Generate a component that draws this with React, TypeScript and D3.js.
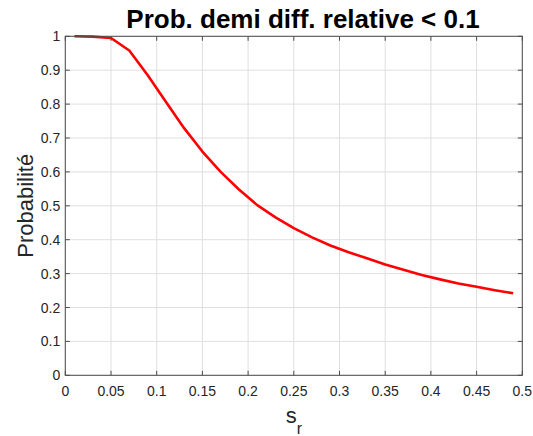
import React from "react";
import * as d3 from "d3";

// Relative standard deviation s_r sampled every 0.02
const srValues = [
  0.01, 0.03, 0.05, 0.07, 0.09, 0.11, 0.13, 0.15, 0.17, 0.19, 0.21, 0.23, 0.25,
  0.27, 0.29, 0.31, 0.33, 0.35, 0.37, 0.39, 0.41, 0.43, 0.45, 0.47, 0.49,
];
// Probability that the half relative difference stays below 0.1
const probValues = [
  1.0, 0.999, 0.995, 0.958, 0.886, 0.807, 0.729, 0.66, 0.6, 0.548, 0.502, 0.466,
  0.434, 0.407, 0.383, 0.363, 0.345, 0.327, 0.311, 0.296, 0.283, 0.271, 0.261,
  0.251, 0.242,
];
const xTicks = [0, 0.05, 0.1, 0.15, 0.2, 0.25, 0.3, 0.35, 0.4, 0.45, 0.5];
const yTicks = [0, 0.1, 0.2, 0.3, 0.4, 0.5, 0.6, 0.7, 0.8, 0.9, 1];

const W = 533;
const H = 436;
const left = 65.3;
const right = 522.3;
const top = 36.3;
const bottom = 375.3;
const font = "'Liberation Sans', Arial, Helvetica, sans-serif";
const axisColor = "#4d4d4d";
const textColor = "#262626";
const gridColor = "#dfdfdf";
const tickLen = 4.5;

const fmt = (v: number) => (v === 0 ? "0" : String(+v.toFixed(2)));

export default function App() {
  const x = d3.scaleLinear().domain([0, 0.5]).range([left, right]);
  const y = d3.scaleLinear().domain([0, 1]).range([bottom, top]);
  const data = srValues.map((s, i) => [s, probValues[i]] as [number, number]);
  const line = d3
    .line<[number, number]>()
    .x((d) => x(d[0]))
    .y((d) => y(d[1]));

  return (
    <svg
      width={W}
      height={H}
      style={{ position: "fixed", left: 0, top: 0, background: "#fff" }}
      fontFamily={font}
    >
      <rect x={0} y={0} width={W} height={H} fill="#fff" />
      {/* grid */}
      {xTicks.map((t) => (
        <line
          key={"gx" + t}
          x1={x(t)}
          x2={x(t)}
          y1={top}
          y2={bottom}
          stroke={gridColor}
          strokeWidth={1}
        />
      ))}
      {yTicks.map((t) => (
        <line
          key={"gy" + t}
          x1={left}
          x2={right}
          y1={y(t)}
          y2={y(t)}
          stroke={gridColor}
          strokeWidth={1}
        />
      ))}
      {/* curve */}
      <path
        d={line(data) || ""}
        fill="none"
        stroke="#ff0000"
        strokeWidth={2.6}
        strokeLinejoin="round"
      />
      {/* box */}
      <rect
        x={left}
        y={top}
        width={right - left}
        height={bottom - top}
        fill="none"
        stroke={axisColor}
        strokeWidth={1}
      />
      {/* ticks */}
      {xTicks.map((t) => (
        <g key={"tx" + t}>
          <line x1={x(t)} x2={x(t)} y1={bottom} y2={bottom - tickLen} stroke={axisColor} />
          <line x1={x(t)} x2={x(t)} y1={top} y2={top + tickLen} stroke={axisColor} />
          <text
            x={x(t)}
            y={396}
            textAnchor="middle"
            fontSize={14}
            fill={textColor}
          >
            {fmt(t)}
          </text>
        </g>
      ))}
      {yTicks.map((t) => (
        <g key={"ty" + t}>
          <line x1={left} x2={left + tickLen} y1={y(t)} y2={y(t)} stroke={axisColor} />
          <line x1={right} x2={right - tickLen} y1={y(t)} y2={y(t)} stroke={axisColor} />
          <text
            x={left - 5}
            y={y(t) + 5}
            textAnchor="end"
            fontSize={14}
            fill={textColor}
          >
            {fmt(t)}
          </text>
        </g>
      ))}
      {/* title */}
      <text
        x={303}
        y={27.5}
        textAnchor="middle"
        fontSize={26}
        fontWeight="bold"
        fill="#000"
      >
        Prob. demi diff. relative &lt; 0.1
      </text>
      {/* y label */}
      <text
        transform={`translate(33,${(top + bottom) / 2}) rotate(-90)`}
        textAnchor="middle"
        fontSize={22}
        fill={textColor}
      >
        Probabilité
      </text>
      {/* x label */}
      <text
        x={(left + right) / 2}
        y={423}
        textAnchor="middle"
        fontSize={22}
        fill={textColor}
      >
        s
        <tspan fontSize={16} dy={11}>
          r
        </tspan>
      </text>
    </svg>
  );
}
